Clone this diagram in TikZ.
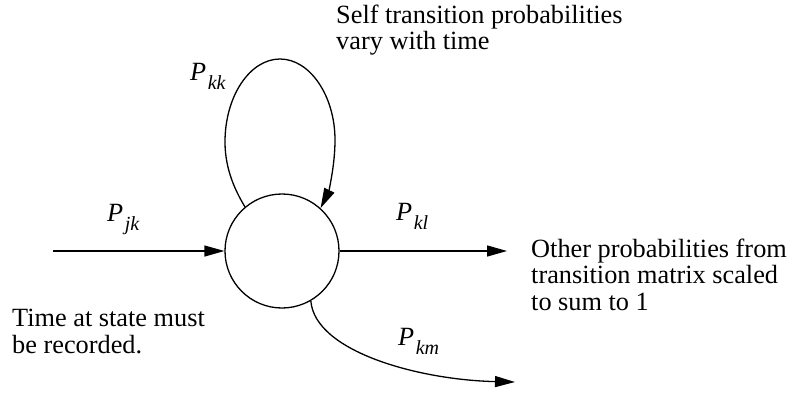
\documentclass[tikz,border=0pt]{standalone}
\usepackage{fontspec}
\setmainfont{Liberation Serif}
\usetikzlibrary{arrows.meta}
\newcommand\plabel[1]{\textit{P}\kern1.5pt\raisebox{-9pt}{\fontsize{20}{20}\selectfont\itshape #1}}
\begin{document}
\begin{tikzpicture}[x=1pt,y=1pt,
  line/.style={line width=1.3pt},
  arr/.style={line, -{Triangle[length=20pt,width=11pt]}},
  txt/.style={inner sep=0pt, anchor=base west, align=left, font=\fontsize{26.3}{26.5}\selectfont},
  lab/.style={inner sep=0pt, anchor=base west, font=\fontsize{26.3}{26.5}\selectfont}]
\useasboundingbox (0,0) rectangle (790,392);
\node[draw, line, circle, minimum size=114pt, inner sep=0pt] (s) at (282,141) {};
\coordinate (in) at (53,141);
\coordinate (outl) at (507,141);
\coordinate (outm) at (515,10);
\coordinate (L) at (225,250);
\coordinate (T) at (280,333);
\coordinate (R) at (335,252);
\draw[arr] (in) -- (s.west);
\draw[arr] (s.east) -- (outl);
\draw[arr] (s.-60) .. controls (315,40) and (420,12) .. (outm);
\draw[arr] (s.130) .. controls (236,200) and (225,222) .. (L)
  .. controls (225,296) and (250,333) .. (T)
  .. controls (310,333) and (335,296) .. (R)
  .. controls (335,225) and (328,199) .. (s.48);
\node[lab] (pkk) at (190,312) {\plabel{kk}};
\node[lab] (pjk) at (107,171) {\plabel{jk}};
\node[lab] (pkl) at (396,172) {\plabel{kl}};
\node[lab] (pkm) at (398,47) {\plabel{km}};
\node[txt] (self) at (336,342) {Self transition probabilities\\vary with time};
\node[txt] (other) at (531,82) {Other probabilities from\\transition matrix scaled\\to sum to 1};
\node[txt] (time) at (12,39) {Time at state must\\be recorded.};
\end{tikzpicture}
\end{document}
